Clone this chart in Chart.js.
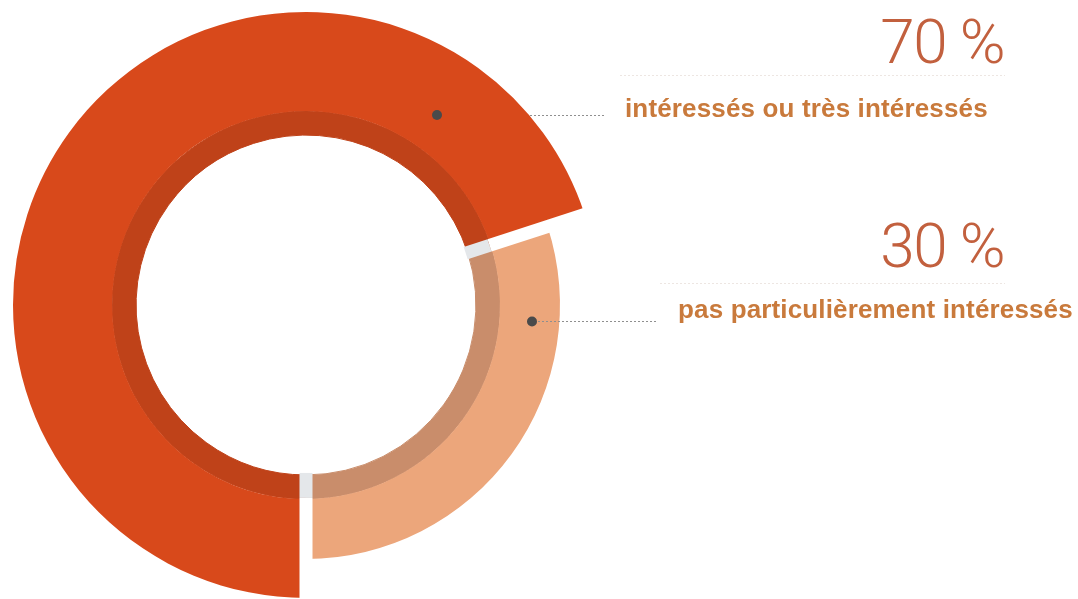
<!DOCTYPE html>
<html>
<head>
<meta charset="utf-8">
<script src="https://cdn.jsdelivr.net/npm/chart.js@4.4.1/dist/chart.umd.min.js"></script>
<style>
  html, body { margin: 0; padding: 0; background: #ffffff; width: 1078px; height: 599px; overflow: hidden; }
  #wrap { position: absolute; left: 0; top: 0; width: 1078px; height: 599px; }
  canvas { position: absolute; left: 0; top: 0; }
  .pct { position: absolute; font-family: Roboto, "Open Sans", sans-serif; font-weight: 300; font-size: 62px; line-height: 1; color: #c2603e; white-space: nowrap; text-align: right; letter-spacing: -1.5px; }
  .lbl { position: absolute; font-family: "Liberation Sans", Arial, sans-serif; font-weight: bold; font-size: 26px; line-height: 1; color: #c97a3c; white-space: nowrap; letter-spacing: 0.15px; }
</style>
</head>
<body>
<div id="wrap">
  <canvas id="c" width="1078" height="599"></canvas>
  <div class="pct" id="p0" style="right:74px; top:11px;"></div>
  <div class="lbl" id="l0" style="left:625px; top:95px;"></div>
  <div class="pct" id="p1" style="right:74px; top:215px;"></div>
  <div class="lbl" id="l1" style="left:678px; top:296px;"></div>
</div>
<script>
const categories = ['intéressés ou très intéressés', 'pas particulièrement intéressés'];
const values = [70, 30];
const pctLabels = ['70 %', '30 %'];

const mainColors = ['#d8491b', '#eca67b'];
const bandColors = ['#bf4219', '#c98d6b'];
// relative thickness of the main ring kept by each slice (1 = full)
const sliceDepth = [1, 0.606];
const gapWidth = 13;

document.getElementById('p0').textContent = pctLabels[0];
document.getElementById('p1').textContent = pctLabels[1];
document.getElementById('l0').textContent = categories[0];
document.getElementById('l1').textContent = categories[1];

const depthPlugin = {
  id: 'depth',
  afterDatasetsUpdate(chart) {
    const meta = chart.getDatasetMeta(0);
    meta.data.forEach((arc, i) => {
      arc.outerRadius = arc.innerRadius + (arc.outerRadius - arc.innerRadius) * sliceDepth[i];
    });
  },
  afterDatasetsDraw(chart) {
    const ctx = chart.ctx;
    const outer = chart.getDatasetMeta(0).data;
    const band = chart.getDatasetMeta(1).data;
    ctx.save();
    ctx.lineCap = 'butt';
    outer.forEach((arc) => {
      const a = arc.startAngle;
      const cx = arc.x, cy = arc.y;
      const c = Math.cos(a), s = Math.sin(a);
      const rIn = band[0].innerRadius, rBand = band[0].outerRadius, rOut = outer[0].outerRadius + 4;
      ctx.lineWidth = gapWidth;
      ctx.strokeStyle = '#ffffff';
      ctx.beginPath(); ctx.moveTo(cx + c * (rBand - 1), cy + s * (rBand - 1)); ctx.lineTo(cx + c * rOut, cy + s * rOut); ctx.stroke();
      ctx.strokeStyle = '#e4e7ea';
      ctx.beginPath(); ctx.moveTo(cx + c * (rIn - 2), cy + s * (rIn - 2)); ctx.lineTo(cx + c * (rBand - 1), cy + s * (rBand - 1)); ctx.stroke();
    });
    ctx.restore();
  }
};

const leaderPlugin = {
  id: 'leaders',
  afterDraw(chart) {
    const ctx = chart.ctx;
    ctx.save();
    ctx.strokeStyle = 'rgba(215,200,190,0.45)';
    ctx.lineWidth = 1;
    ctx.setLineDash([2, 2]);
    ctx.beginPath(); ctx.moveTo(620, 75.5); ctx.lineTo(1005, 75.5); ctx.stroke();
    ctx.beginPath(); ctx.moveTo(660, 283.5); ctx.lineTo(1005, 283.5); ctx.stroke();
    ctx.strokeStyle = '#8f8f8f';
    ctx.beginPath(); ctx.moveTo(530, 115.5); ctx.lineTo(604, 115.5); ctx.stroke();
    ctx.beginPath(); ctx.moveTo(538, 321.5); ctx.lineTo(657, 321.5); ctx.stroke();
    ctx.setLineDash([]);
    ctx.fillStyle = '#4a4a4a';
    ctx.beginPath(); ctx.arc(437, 115, 5, 0, Math.PI * 2); ctx.fill();
    ctx.beginPath(); ctx.arc(532, 321.5, 5, 0, Math.PI * 2); ctx.fill();
    ctx.restore();
  }
};

new Chart(document.getElementById('c'), {
  type: 'doughnut',
  data: {
    labels: categories,
    datasets: [
      { data: values, backgroundColor: mainColors, borderWidth: 0, weight: 99 },
      { data: values, backgroundColor: bandColors, borderColor: bandColors, borderWidth: 1, weight: 24 }
    ]
  },
  options: {
    responsive: false,
    animation: false,
    rotation: 180,
    radius: 293,
    cutout: '58%',
    layout: { padding: { left: 13, right: 479, top: 12, bottom: 1 } },
    plugins: { legend: { display: false }, tooltip: { enabled: false } },
    events: []
  },
  plugins: [depthPlugin, leaderPlugin]
});
</script>
</body>
</html>
